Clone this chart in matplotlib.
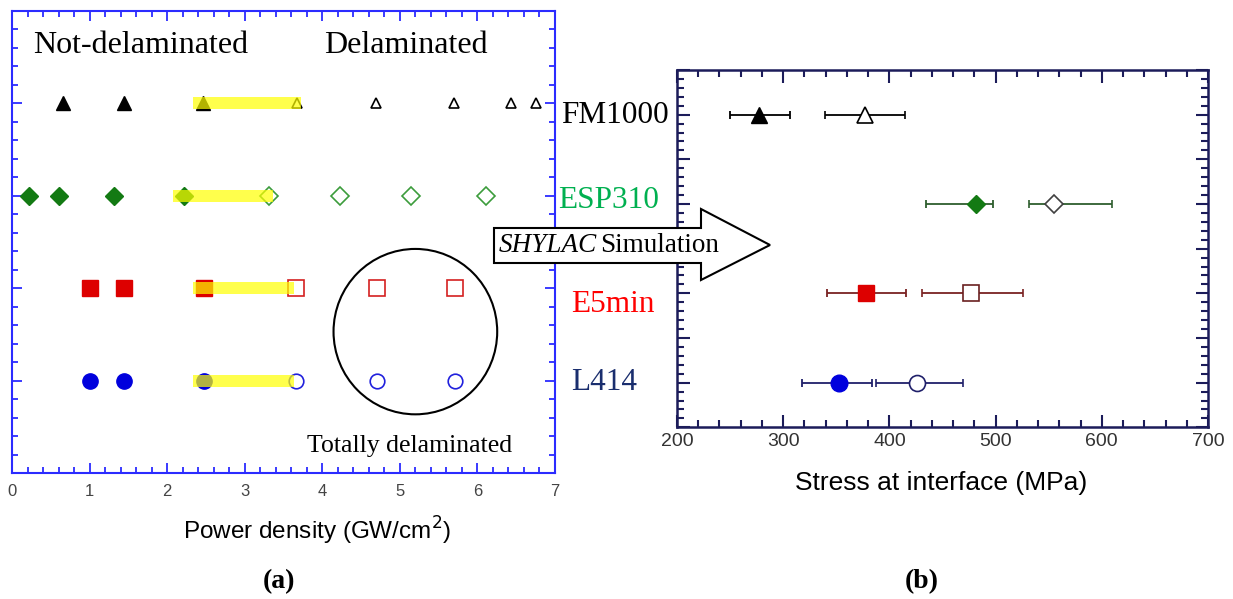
import numpy as np
import matplotlib.pyplot as plt
from matplotlib.patches import Ellipse, Polygon
from matplotlib.ticker import MultipleLocator

W, H = 1233, 599

samples = ['FM1000', 'ESP310', 'E5min', 'L414']
rows = [4, 3, 2, 1]
label_colors = ['#000000', '#00b050', '#ff0000', '#1a2e6e']

# (a) power density of the laser shots (GW/cm2)
intact = [[0.66, 1.44, 2.46],
          [0.22, 0.61, 1.31, 2.22],
          [1.01, 1.45, 2.47],
          [1.01, 1.45, 2.47]]
delam = [[3.68, 4.69, 5.70, 6.43, 6.75],
         [3.31, 4.23, 5.15, 6.11],
         [3.66, 4.70, 5.71],
         [3.66, 4.70, 5.71]]
thresh_lo = [2.33, 2.08, 2.33, 2.33]
thresh_hi = [3.72, 3.36, 3.64, 3.64]

# (b) simulated stress at the interface (MPa)
stress_intact = [277, 482, 378, 353]
stress_intact_lo = [250, 434, 341, 318]
stress_intact_hi = [306, 498, 416, 384]
stress_delam = [377, 555, 477, 426]
stress_delam_lo = [339, 531, 431, 387]
stress_delam_hi = [415, 610, 526, 469]

SERIF = 'Liberation Serif'
SANS = 'Liberation Sans'
NARROW = ['Liberation Sans Narrow', 'Liberation Sans']


def px(x, y):
    return x / W, 1 - y / H


fig = plt.figure(figsize=(W / 100, H / 100), dpi=100)

#%% panel (a)
ax1 = fig.add_axes([12 / W, 1 - 473 / H, 543 / W, 462 / H])

markers = ['^', 'D', 's', 'o']
fill_col = ['#000000', '#137a13', '#dd0000', '#0000dd']
open_col = ['#000000', '#3c9c3c', '#d42020', '#2020dd']
ms_fill = [10.5, 9, 11.5, 11]
ms_open = [7, 9.5, 11, 10.5]

for i in range(4):
    y = rows[i]
    ax1.plot(intact[i], [y] * len(intact[i]), ls='none', marker=markers[i],
             ms=ms_fill[i], mfc=fill_col[i], mec=fill_col[i], zorder=2)
    ax1.plot(delam[i], [y] * len(delam[i]), ls='none', marker=markers[i],
             ms=ms_open[i], mfc='white', mec=open_col[i], mew=1.2, zorder=2)
    ax1.barh(y, thresh_hi[i] - thresh_lo[i], left=thresh_lo[i], height=0.13,
             color='#ffff00', alpha=0.7, lw=0, zorder=3)

ax1.add_patch(Ellipse((5.20, 1.53), 2.11, 1.79, fill=False, lw=1.5, ec='black'))

ax1.set_xlim(0, 7)
ax1.set_ylim(0, 5)
ax1.xaxis.set_major_locator(MultipleLocator(1))
ax1.xaxis.set_minor_locator(MultipleLocator(0.2))
ax1.yaxis.set_major_locator(MultipleLocator(1))
ax1.yaxis.set_minor_locator(MultipleLocator(0.2))
for sp in ax1.spines.values():
    sp.set_color('#2b2bff')
    sp.set_linewidth(1.5)
ax1.tick_params(which='both', direction='in', top=True, right=True,
                color='#2b2bff', labelleft=False, labelcolor='#444444',
                labelsize=12, pad=8)
ax1.tick_params(which='major', length=7, width=1.3)
ax1.tick_params(which='minor', length=4.5, width=1.3)
for lab in ax1.get_xticklabels():
    lab.set_family(NARROW)

#%% panel (b)
ax2 = fig.add_axes([677 / W, 1 - 427.3 / H, 531 / W, 357.3 / H])

bar_col = ['#000000', '#2e5e2e', '#7a2222', '#20206a']
ms2_fill = [12, 9, 12, 12]
ms2_open = [11, 9.5, 11.5, 11.5]
edge2 = ['#000000', '#404040', '#6a2020', '#20206a']

for i in range(4):
    y = rows[i]
    ax2.errorbar(stress_intact[i], y,
                 xerr=[[stress_intact[i] - stress_intact_lo[i]],
                       [stress_intact_hi[i] - stress_intact[i]]],
                 fmt=markers[i], ms=ms2_fill[i], mfc=fill_col[i], mec=fill_col[i],
                 ecolor=bar_col[i], elinewidth=1.3, capsize=3, capthick=1.3)
    ax2.errorbar(stress_delam[i], y,
                 xerr=[[stress_delam[i] - stress_delam_lo[i]],
                       [stress_delam_hi[i] - stress_delam[i]]],
                 fmt=markers[i], ms=ms2_open[i], mfc='white', mec=edge2[i], mew=1.2,
                 ecolor=bar_col[i], elinewidth=1.3, capsize=3, capthick=1.3)

ax2.set_xlim(200, 700)
ax2.set_ylim(0.5, 4.5)
ax2.xaxis.set_major_locator(MultipleLocator(100))
ax2.xaxis.set_minor_locator(MultipleLocator(20))
ax2.yaxis.set_major_locator(MultipleLocator(0.5))
ax2.yaxis.set_minor_locator(MultipleLocator(0.1))
for sp in ax2.spines.values():
    sp.set_color('#1c1c5a')
    sp.set_linewidth(1.8)
ax2.tick_params(which='both', direction='in', top=True, right=True,
                color='#1c1c5a', labelleft=False, labelcolor='#333333',
                labelsize=14, pad=4)
ax2.tick_params(which='major', length=9, width=1.5)
ax2.tick_params(which='minor', length=5, width=1.5)
for lab in ax2.get_xticklabels():
    lab.set_family(NARROW)

#%% texts
fig.text(*px(33, 53), 'Not-delaminated', family=SERIF, fontsize=23, va='baseline')
fig.text(*px(324, 53), 'Delaminated', family=SERIF, fontsize=23, va='baseline')
fig.text(*px(307, 452), 'Totally delaminated', family=SERIF, fontsize=18.5, va='baseline')

label_x = [561, 558, 571, 571]
label_base = [123, 208, 312, 390]
for i in range(4):
    fig.text(*px(label_x[i], label_base[i]), samples[i], family=SERIF,
             fontsize=22.5, color=label_colors[i], va='baseline')

fig.text(*px(317, 540), 'Power density (GW/cm$^2$)', family=SANS, fontsize=17.5,
         ha='center', va='baseline')
fig.text(*px(941, 490), 'Stress at interface (MPa)', family=SANS, fontsize=19,
         ha='center', va='baseline')
fig.text(*px(279, 588), '(a)', family=SERIF, fontsize=20, weight='bold',
         ha='center', va='baseline')
fig.text(*px(922, 588), '(b)', family=SERIF, fontsize=20, weight='bold',
         ha='center', va='baseline')

# arrow from (a) to (b)
arrow_px = [(494, 228), (701, 228), (701, 209), (770, 245),
            (701, 280), (701, 263), (494, 263)]
arrow = Polygon([px(x, y) for x, y in arrow_px], closed=True, fc='white',
                ec='black', lw=1.5, transform=fig.transFigure, zorder=5)
fig.patches.append(arrow)
fig.text(*px(499, 252), 'SHYLAC', family=SERIF, style='italic', fontsize=19.5,
         va='baseline', zorder=6)
fig.text(*px(600, 252), 'Simulation', family=SERIF, fontsize=19.5,
         va='baseline', zorder=6)

fig.savefig('out.png', dpi=100)
